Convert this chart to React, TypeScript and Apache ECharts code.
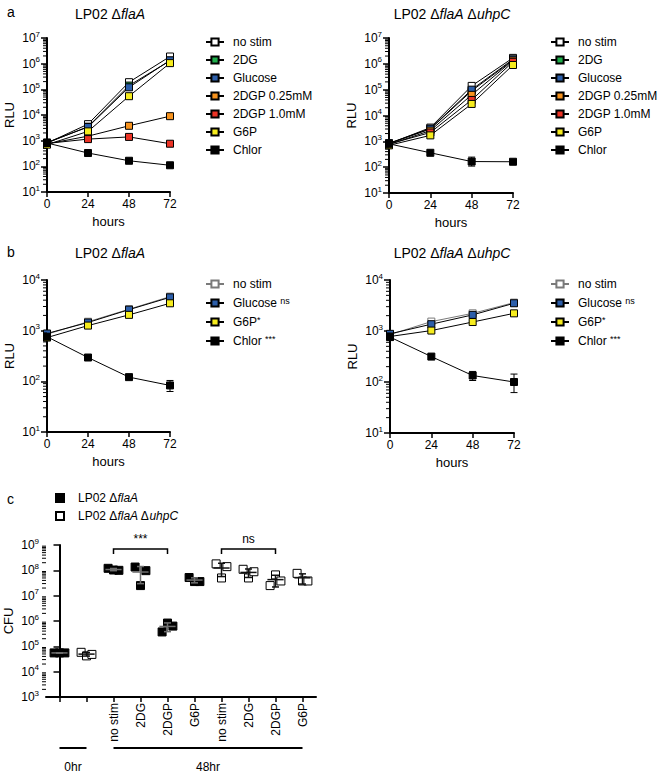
import React, { useEffect, useRef } from 'react';
import * as echarts from 'echarts';

const FONT = "'Liberation Sans', Arial, sans-serif";

// ---------------- Panel a / b : luminescence time courses ----------------
const HOURS = [0, 24, 48, 72];

const A_NAMES = ['no stim', '2DG', 'Glucose', '2DGP 0.25mM', '2DGP 1.0mM', 'G6P', 'Chlor'];

// LP02 ΔflaA (panel a, left)
const A_FLAA_NOSTIM = [800, 4400, 190000, 1900000];
const A_FLAA_2DG = [820, 3500, 140000, 1300000];
const A_FLAA_GLUCOSE = [850, 3400, 120000, 1350000];
const A_FLAA_2DGP025 = [750, 1500, 3800, 9000];
const A_FLAA_2DGP10 = [780, 1150, 1400, 760];
const A_FLAA_G6P = [700, 2300, 54000, 1050000];
const A_FLAA_CHLOR = [810, 330, 165, 110];

// LP02 ΔflaA ΔuhpC (panel a, right)
const A_UHPC_NOSTIM = [800, 3400, 140000, 1700000];
const A_UHPC_2DG = [820, 3000, 90000, 1400000];
const A_UHPC_GLUCOSE = [850, 3100, 100000, 1500000];
const A_UHPC_2DGP025 = [750, 2600, 63000, 1350000];
const A_UHPC_2DGP10 = [780, 2200, 40000, 1200000];
const A_UHPC_G6P = [700, 1700, 28000, 900000];
const A_UHPC_CHLOR = [800, 360, 165, 162];
const A_UHPC_CHLOR_ERR = [[48, 110, 245]];

const B_NAMES = ['no stim', 'Glucose', 'G6P', 'Chlor'];
const B_SUPERSCRIPTS = ['', 'ns', '*', '***'];

// LP02 ΔflaA (panel b, left)
const B_FLAA_NOSTIM = [850, 1500, 2650, 4700];
const B_FLAA_GLUCOSE = [880, 1450, 2600, 4550];
const B_FLAA_G6P = [730, 1260, 2050, 3470];
const B_FLAA_CHLOR = [760, 295, 121, 83];
const B_FLAA_CHLOR_ERR = [[72, 63, 104]];

// LP02 ΔflaA ΔuhpC (panel b, right)
const B_UHPC_NOSTIM = [850, 1530, 2220, 3600];
const B_UHPC_GLUCOSE = [880, 1360, 2070, 3500];
const B_UHPC_G6P = [780, 1020, 1500, 2220];
const B_UHPC_CHLOR = [760, 315, 134, 100];
const B_UHPC_CHLOR_ERR = [[48, 107, 161], [72, 62, 143]];

// ---------------- Panel c : CFU ----------------
const C_CATEGORIES = ['', '', 'no stim', '2DG', '2DGP', 'G6P', 'no stim', '2DG', '2DGP', 'G6P'];
const C_FLAA_CATS = [0, 2, 3, 4, 5];
const C_FLAA_VALUES = [
  [55000, 55000, 55000],
  [120000000, 103000000, 100000000],
  [135000000, 25000000, 97000000],
  [370000, 830000, 630000],
  [52000000, 36000000, 36000000],
];
const C_UHPC_CATS = [1, 6, 7, 8, 9];
const C_UHPC_VALUES = [
  [58000, 42000, 48000],
  [180000000, 50000000, 140000000],
  [110000000, 50000000, 88000000],
  [25000000, 66000000, 38000000],
  [76000000, 38000000, 38000000],
];
const C_JITTER = [-0.2, 0, 0.2];
const C_BRACKETS = [[2, 4, 700000000], [6, 8, 700000000]];
const C_BRACKET_LABELS = ['***', 'ns'];
const C_TIME_GROUPS = [[0, 1, 1000], [2, 9, 1000]];
const C_TIME_LABELS = ['0hr', '48hr'];
const C_LEGEND = ['LP02 Δ{i|flaA}', 'LP02 Δ{i|flaA} Δ{i|uhpC}'];

// minor tick multipliers within each decade of the log axes
const MINOR_STEPS = [2, 3, 4, 5, 6, 7, 8, 9];

// ---------------- styles ----------------
const COLORS: Record<string, string> = {
  'no stim': '#ffffff',
  '2DG': '#1fae4b',
  Glucose: '#2c5ea9',
  '2DGP 0.25mM': '#f7931e',
  '2DGP 1.0mM': '#ec3325',
  G6P: '#f6ec1e',
  Chlor: '#000000',
};

function lineSeries(panel: string, name: string, values: number[], axis: number, gray = false) {
  const stroke = gray ? '#7a7a7a' : '#000';
  return {
    type: 'line',
    name: panel + '|' + name,
    xAxisIndex: axis,
    yAxisIndex: axis,
    data: HOURS.map((h, i) => [h, values[i]]),
    symbol: 'rect',
    symbolSize: 7,
    itemStyle: { color: COLORS[name], borderColor: stroke, borderWidth: 1, opacity: 1 },
    lineStyle: { color: stroke, width: 1 },
    emphasis: { disabled: true },
    silent: true,
    z: 3,
  };
}

function errRender(params: any, api: any) {
  const x = api.value(0);
  const lo = api.coord([x, api.value(1)]);
  const hi = api.coord([x, api.value(2)]);
  const cw = 3.5;
  const st = { stroke: '#000', lineWidth: 1 };
  return {
    type: 'group',
    children: [
      { type: 'line', shape: { x1: lo[0], y1: lo[1], x2: hi[0], y2: hi[1] }, style: st },
      { type: 'line', shape: { x1: lo[0] - cw, y1: lo[1], x2: lo[0] + cw, y2: lo[1] }, style: st },
      { type: 'line', shape: { x1: hi[0] - cw, y1: hi[1], x2: hi[0] + cw, y2: hi[1] }, style: st },
    ],
  };
}

function errSeries(data: number[][], axis: number) {
  return {
    type: 'custom',
    xAxisIndex: axis,
    yAxisIndex: axis,
    data,
    encode: { x: 0, y: [1, 2] },
    renderItem: errRender,
    silent: true,
    z: 2,
  };
}

// minor ticks drawn on the log axes through the axis scale
function minorTickSeries(xAxis: number, yAxis: number, xMin: number, yMin: number, yMax: number) {
  const data: number[][] = [];
  for (let d = yMin; d < yMax; d *= 10) MINOR_STEPS.forEach((s) => data.push([xMin, s * d]));
  return {
    type: 'custom',
    xAxisIndex: xAxis,
    yAxisIndex: yAxis,
    data,
    encode: { x: 0, y: 1 },
    clip: false,
    silent: true,
    z: 5,
    renderItem: (params: any, api: any) => {
      const p = api.coord([api.value(0), api.value(1)]);
      return {
        type: 'line',
        shape: { x1: p[0] - 4, y1: p[1], x2: p[0], y2: p[1] },
        style: { stroke: '#000', lineWidth: 1 },
      };
    },
  };
}

const supLabel = (v: number) => '10{sup|' + Math.round(Math.log10(v)) + '}';

const axisLabelRich = {
  sup: { fontSize: 8, lineHeight: 8, verticalAlign: 'top', fontFamily: FONT, color: '#000' },
};

function timeXAxis(grid: number) {
  return {
    type: 'value',
    gridIndex: grid,
    min: 0,
    max: 72,
    interval: 24,
    name: 'hours',
    nameLocation: 'middle',
    nameGap: 23,
    nameTextStyle: { fontSize: 13, color: '#000', fontFamily: FONT },
    axisLine: { show: true, onZero: false, lineStyle: { color: '#000', width: 2 } },
    axisTick: { show: true, length: 5, lineStyle: { color: '#000', width: 1.5 } },
    axisLabel: { color: '#000', fontSize: 12, fontFamily: FONT, margin: 6 },
    splitLine: { show: false },
  };
}

function logYAxis(grid: number, min: number, max: number, name: string) {
  return {
    type: 'log',
    logBase: 10,
    gridIndex: grid,
    min,
    max,
    splitNumber: Math.round(Math.log10(max / min)),
    name,
    nameLocation: 'middle',
    nameRotate: 90,
    nameGap: 31,
    nameTextStyle: { fontSize: 13, color: '#000', fontFamily: FONT },
    axisLine: { show: true, lineStyle: { color: '#000', width: 2 } },
    axisTick: { show: true, length: 6, lineStyle: { color: '#000', width: 1.5 } },
    axisLabel: {
      color: '#000',
      fontSize: 12,
      lineHeight: 16,
      fontFamily: FONT,
      margin: 7,
      formatter: supLabel,
      rich: axisLabelRich,
    },
    splitLine: { show: false },
  };
}

function lineLegend(panel: string, names: string[], left: number, top: number, sups?: string[]) {
  return {
    orient: 'vertical',
    left,
    top,
    padding: 0,
    itemGap: sups ? 5 : 4,
    itemWidth: 18,
    itemHeight: 9,
    selectedMode: false,
    data: names.map((n) => panel + '|' + n),
    formatter: (n: string) => {
      const base = n.split('|')[1];
      if (!sups) return base;
      const s = sups[names.indexOf(base)];
      return s ? base + (s === '*' ? '' : ' ') + '{sup|' + s + '}' : base;
    },
    textStyle: {
      fontSize: 12,
      fontFamily: FONT,
      color: '#000',
      lineHeight: 14,
      padding: [0, 0, 0, 4],
      rich: { sup: { fontSize: 9, lineHeight: 8, verticalAlign: 'top', fontFamily: FONT, color: '#000' } },
    },
  };
}

function buildOption() {
  const series: any[] = [];
  const aL = [A_FLAA_NOSTIM, A_FLAA_2DG, A_FLAA_GLUCOSE, A_FLAA_2DGP025, A_FLAA_2DGP10, A_FLAA_G6P, A_FLAA_CHLOR];
  const aR = [A_UHPC_NOSTIM, A_UHPC_2DG, A_UHPC_GLUCOSE, A_UHPC_2DGP025, A_UHPC_2DGP10, A_UHPC_G6P, A_UHPC_CHLOR];
  A_NAMES.forEach((n, i) => series.push(lineSeries('aL', n, aL[i], 0)));
  series.push(errSeries(A_UHPC_CHLOR_ERR, 1));
  A_NAMES.forEach((n, i) => series.push(lineSeries('aR', n, aR[i], 1)));
  const bL = [B_FLAA_NOSTIM, B_FLAA_GLUCOSE, B_FLAA_G6P, B_FLAA_CHLOR];
  const bR = [B_UHPC_NOSTIM, B_UHPC_GLUCOSE, B_UHPC_G6P, B_UHPC_CHLOR];
  series.push(errSeries(B_FLAA_CHLOR_ERR, 2));
  B_NAMES.forEach((n, i) => series.push(lineSeries('bL', n, bL[i], 2, n === 'no stim')));
  series.push(errSeries(B_UHPC_CHLOR_ERR, 3));
  B_NAMES.forEach((n, i) => series.push(lineSeries('bR', n, bR[i], 3, n === 'no stim')));

  series.push(minorTickSeries(0, 0, 0, 10, 10000000));
  series.push(minorTickSeries(1, 1, 0, 10, 10000000));
  series.push(minorTickSeries(2, 2, 0, 10, 10000));
  series.push(minorTickSeries(3, 3, 0, 10, 10000));
  series.push(minorTickSeries(5, 4, -0.5, 1000, 1000000000));

  // panel c scatter
  const pts = (cats: number[], vals: number[][]) =>
    cats.flatMap((c, g) => vals[g].map((v, j) => [c + C_JITTER[j], v]));
  series.push({
    type: 'scatter',
    name: 'c|0',
    xAxisIndex: 5,
    yAxisIndex: 4,
    data: pts(C_FLAA_CATS, C_FLAA_VALUES),
    symbol: 'rect',
    symbolSize: 8,
    itemStyle: { color: '#000', borderColor: '#000', borderWidth: 1, opacity: 1 },
    emphasis: { disabled: true },
    silent: true,
    z: 3,
  });
  series.push({
    type: 'scatter',
    name: 'c|1',
    xAxisIndex: 5,
    yAxisIndex: 4,
    data: pts(C_UHPC_CATS, C_UHPC_VALUES),
    symbol: 'rect',
    symbolSize: 8,
    itemStyle: { color: '#fff', borderColor: '#000', borderWidth: 1, opacity: 1 },
    emphasis: { disabled: true },
    silent: true,
    z: 3,
  });

  // mean ± SD
  const stats = (cats: number[], vals: number[][], colorIdx: number) =>
    cats.map((c, g) => {
      const v = vals[g];
      const m = v.reduce((a, b) => a + b, 0) / v.length;
      const sd = Math.sqrt(v.reduce((a, b) => a + (b - m) * (b - m), 0) / (v.length - 1));
      return [c, m, Math.max(m - sd, 1000), m + sd, colorIdx];
    });
  const statColors = ['#6e6e6e', '#111'];
  series.push({
    type: 'custom',
    xAxisIndex: 5,
    yAxisIndex: 4,
    data: [...stats(C_FLAA_CATS, C_FLAA_VALUES, 0), ...stats(C_UHPC_CATS, C_UHPC_VALUES, 1)],
    encode: { x: 0, y: [1, 2, 3] },
    silent: true,
    z: 4,
    renderItem: (params: any, api: any) => {
      const c = api.value(0);
      const st = { stroke: statColors[api.value(4)], lineWidth: 1.5 };
      const mL = api.coord([c - 0.3, api.value(1)]);
      const mR = api.coord([c + 0.3, api.value(1)]);
      const lo = api.coord([c, api.value(2)]);
      const hi = api.coord([c, api.value(3)]);
      const cl = api.coord([c - 0.13, api.value(2)])[0];
      const cr = api.coord([c + 0.13, api.value(2)])[0];
      return {
        type: 'group',
        children: [
          { type: 'line', shape: { x1: mL[0], y1: mL[1], x2: mR[0], y2: mR[1] }, style: st },
          { type: 'line', shape: { x1: lo[0], y1: lo[1], x2: hi[0], y2: hi[1] }, style: st },
          { type: 'line', shape: { x1: cl, y1: lo[1], x2: cr, y2: lo[1] }, style: st },
          { type: 'line', shape: { x1: cl, y1: hi[1], x2: cr, y2: hi[1] }, style: st },
        ],
      };
    },
  });

  // significance brackets
  series.push({
    type: 'custom',
    xAxisIndex: 5,
    yAxisIndex: 4,
    data: C_BRACKETS,
    encode: { x: [0, 1], y: 2 },
    clip: false,
    silent: true,
    renderItem: (params: any, api: any) => {
      const p1 = api.coord([api.value(0), api.value(2)]);
      const p2 = api.coord([api.value(1), api.value(2)]);
      return {
        type: 'group',
        children: [
          {
            type: 'polyline',
            shape: { points: [[p1[0], p1[1] + 5], p1, p2, [p2[0], p2[1] + 5]] },
            style: { stroke: '#000', fill: 'none', lineWidth: 1.5 },
          },
          {
            type: 'text',
            style: {
              text: C_BRACKET_LABELS[params.dataIndex],
              x: (p1[0] + p2[0]) / 2,
              y: p1[1] - 10,
              align: 'center',
              verticalAlign: 'middle',
              fontSize: 12,
              fontFamily: FONT,
              fill: '#000',
            },
          },
        ],
      };
    },
  });

  // time group bars below x axis
  series.push({
    type: 'custom',
    xAxisIndex: 5,
    yAxisIndex: 4,
    data: C_TIME_GROUPS,
    encode: { x: [0, 1], y: 2 },
    clip: false,
    silent: true,
    renderItem: (params: any, api: any) => {
      const p1 = api.coord([api.value(0), api.value(2)]);
      const p2 = api.coord([api.value(1), api.value(2)]);
      const y = p1[1] + 51;
      return {
        type: 'group',
        children: [
          { type: 'line', shape: { x1: p1[0], y1: y, x2: p2[0], y2: y }, style: { stroke: '#000', lineWidth: 2 } },
          {
            type: 'text',
            style: {
              text: C_TIME_LABELS[params.dataIndex],
              x: (p1[0] + p2[0]) / 2,
              y: y + 19,
              align: 'center',
              verticalAlign: 'middle',
              fontSize: 12,
              fontFamily: FONT,
              fill: '#000',
            },
          },
        ],
      };
    },
  });

  const titleStyle = (text: string, x: number, y: number) => ({
    type: 'text',
    x,
    y,
    style: {
      text,
      align: 'center',
      verticalAlign: 'middle',
      fontSize: 14,
      fontFamily: FONT,
      fill: '#000',
      rich: { i: { fontStyle: 'italic', fontSize: 14, fontFamily: FONT, fill: '#000' } },
    },
  });
  const letter = (text: string, y: number) => ({
    type: 'text',
    x: 7,
    y,
    style: { text, verticalAlign: 'middle', fontSize: 14, fontFamily: FONT, fill: '#000' },
  });

  return {
    animation: false,
    textStyle: { fontFamily: FONT },
    grid: [
      { left: 47, top: 38, width: 123, height: 154, outerBoundsMode: 'none' },
      { left: 389, top: 38, width: 124, height: 155, outerBoundsMode: 'none' },
      { left: 47, top: 280, width: 123, height: 152, outerBoundsMode: 'none' },
      { left: 390, top: 280, width: 124, height: 153, outerBoundsMode: 'none' },
      { left: 46, top: 545, width: 270, height: 152, outerBoundsMode: 'none' },
    ],
    xAxis: [
      timeXAxis(0),
      timeXAxis(1),
      timeXAxis(2),
      timeXAxis(3),
      {
        type: 'category',
        gridIndex: 4,
        data: C_CATEGORIES,
        boundaryGap: true,
        axisLine: { show: true, onZero: false, lineStyle: { color: '#000', width: 2 } },
        axisTick: { show: true, alignWithLabel: true, interval: 0, length: 5, lineStyle: { color: '#000', width: 1.5 } },
        axisLabel: { rotate: 90, interval: 0, color: '#000', fontSize: 12, fontFamily: FONT, margin: 6 },
        splitLine: { show: false },
      },
      { type: 'value', gridIndex: 4, min: -0.5, max: 9.5, show: false },
    ],
    yAxis: [
      logYAxis(0, 10, 10000000, 'RLU'),
      logYAxis(1, 10, 10000000, 'RLU'),
      logYAxis(2, 10, 10000, 'RLU'),
      logYAxis(3, 10, 10000, 'RLU'),
      logYAxis(4, 1000, 1000000000, 'CFU'),
    ],
    legend: [
      lineLegend('aL', A_NAMES, 205, 35),
      lineLegend('aR', A_NAMES, 550, 35),
      lineLegend('bL', B_NAMES, 205, 277, B_SUPERSCRIPTS),
      lineLegend('bR', B_NAMES, 550, 277, B_SUPERSCRIPTS),
      {
        orient: 'vertical',
        left: 55,
        top: 491,
        padding: 0,
        itemGap: 4,
        itemWidth: 8,
        itemHeight: 8,
        selectedMode: false,
        data: ['c|0', 'c|1'],
        formatter: (n: string) => C_LEGEND[Number(n.split('|')[1])],
        textStyle: {
          fontSize: 12,
          fontFamily: FONT,
          color: '#000',
          lineHeight: 14,
          padding: [0, 0, 0, 9],
          rich: { i: { fontStyle: 'italic', fontSize: 12, fontFamily: FONT, color: '#000' } },
        },
      },
    ],
    graphic: [
      letter('a', 12),
      letter('b', 252),
      letter('c', 499),
      titleStyle('LP02 Δ{i|flaA}', 110, 14),
      titleStyle('LP02 Δ{i|flaA} Δ{i|uhpC}', 452, 14),
      titleStyle('LP02 Δ{i|flaA}', 110, 253),
      titleStyle('LP02 Δ{i|flaA} Δ{i|uhpC}', 452, 253),
    ],
    series,
  };
}

export default function App() {
  const ref = useRef<HTMLDivElement>(null);
  useEffect(() => {
    if (!ref.current) return;
    const chart = echarts.init(ref.current, null, { renderer: 'svg' });
    chart.setOption(buildOption() as any);
    return () => chart.dispose();
  }, []);
  return (
    <div
      ref={ref}
      style={{ position: 'fixed', left: 0, top: 0, width: 660, height: 777, background: '#fff' }}
    />
  );
}
